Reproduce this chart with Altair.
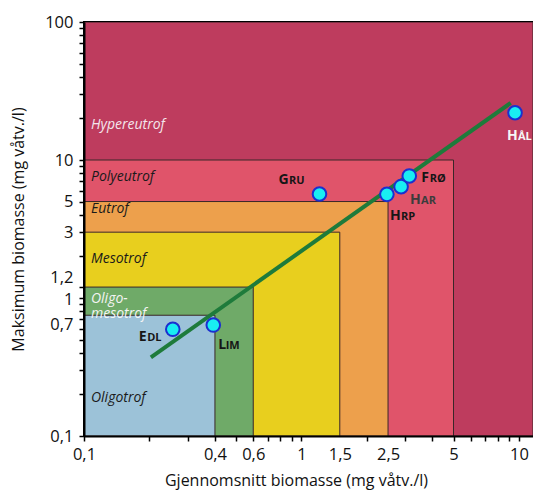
import altair as alt
import pandas as pd

# ---------------- data ----------------
classes = ["Hypereutrof", "Polyeutrof", "Eutrof", "Mesotrof", "Oligo-mesotrof", "Oligotrof"]
class_x_lo = [0.1, 0.1, 0.1, 0.1, 0.1, 0.1]
class_x_hi = [11.6, 5, 2.5, 1.5, 0.6, 0.4]
class_y_lo = [0.1, 0.1, 0.1, 0.1, 0.1, 0.1]
class_y_hi = [100, 10, 5, 3, 1.2, 0.75]
class_label_text = ["Hypereutrof", "Polyeutrof", "Eutrof", "Mesotrof", "Oligo-\nmesotrof", "Oligotrof"]
class_label_y = [17.9, 7.5, 4.4, 1.92, 0.99, 0.19]

lakes = ["Gru", "Hrp", "Har", "Frø", "Hål", "Edl", "Lim"]
lake_mean = [1.21, 2.47, 2.87, 3.13, 9.59, 0.256, 0.393]
lake_max = [5.67, 5.64, 6.41, 7.66, 22.0, 0.593, 0.637]

trend_x = [0.203, 9.16]
trend_y = [0.371, 25.9]

x_ticks = [0.1, 0.2, 0.3, 0.4, 0.5, 0.6, 0.7, 0.8, 0.9, 1, 1.5, 2, 2.5, 3, 4, 5, 6, 7, 8, 9, 10]
x_labels = [0.1, 0.4, 0.6, 1, 1.5, 2.5, 5, 10]
x_notick = [1.5, 2.5]
y_ticks = [0.1, 0.2, 0.3, 0.4, 0.5, 0.6, 0.7, 0.8, 0.9, 1, 1.2, 2, 3, 4, 5, 6, 7, 8, 9,
           10, 20, 30, 40, 50, 60, 70, 80, 90, 100]
y_labels = [0.1, 0.7, 1, 1.2, 3, 5, 10, 100]

# ---------------- styles ----------------
FONT = "Open Sans"
class_colors = ["#BE3C5E", "#E0546A", "#EDA04C", "#E8CF1E", "#6FAA68", "#9CC2D8"]
class_text_colors = ["#F4E6EC", "#1a1a1a", "#1a1a1a", "#1a1a1a", "#F4F4F4", "#1a1a1a"]
# label placement per lake: (dx of big letter, dy of baseline, width of big letter, color)
lake_label_style = {
    "Gru": (-41, -10, 10.6, "#161616"),
    "Hrp": (3, 26, 11.0, "#161616"),
    "Har": (9, 17, 11.0, "#3c3c3c"),
    "Frø": (12, 6, 8.4, "#161616"),
    "Hål": (-8, 27, 11.0, "#F6F6F6"),
    "Edl": (-34, 12, 8.4, "#161616"),
    "Lim": (5, 24, 7.4, "#161616"),
}

def js_list(v):
    return "[" + ",".join(str(a) for a in v) + "]"

rects = pd.DataFrame({
    "cls": classes, "x": class_x_lo, "x2": class_x_hi, "y": class_y_lo, "y2": class_y_hi,
    "fill": class_colors, "label": class_label_text, "ly": class_label_y,
    "tcol": class_text_colors, "order": list(range(len(classes))),
})
pts = pd.DataFrame({"lake": lakes, "x": lake_mean, "y": lake_max})
trend = pd.DataFrame({"x": trend_x, "y": trend_y})

xscale = alt.Scale(type="log", domain=[0.1, 11.6], nice=False)
yscale = alt.Scale(type="log", domain=[0.1, 100], nice=False)

axis_common = dict(
    domainColor="black", domainWidth=2, tickColor="black", tickWidth=1.5, tickSize=5,
    labelFont=FONT, labelFontSize=16.5, labelColor="#111", labelOverlap=False,
    titleFont=FONT, titleFontSize=16, titleFontWeight="normal", titleColor="#111",
    grid=False, zindex=1, labelBound=False, labelFlush=False,
)

x_axis = alt.Axis(
    values=x_ticks,
    labelExpr=f"indexof({js_list(x_labels)}, datum.value) >= 0 ? replace(toString(datum.value), '.', ',') : ''",
    tickOpacity={"condition": {"test": f"indexof({js_list(x_notick)}, datum.value) >= 0", "value": 0}, "value": 1},
    title="Gjennomsnitt biomasse (mg våtv./l)",
    labelPadding=5, titleX=212, titleY=44, titleBaseline="middle", titleAnchor="middle",
    **axis_common,
)
y_axis = alt.Axis(
    values=y_ticks,
    labelExpr=f"indexof({js_list(y_labels)}, datum.value) >= 0 ? replace(toString(datum.value), '.', ',') : ''",
    labelOffset={"condition": [{"test": "datum.value == 1.2", "value": -10},
                               {"test": "datum.value == 1", "value": 1},
                               {"test": "datum.value == 0.7", "value": 5}], "value": 0},
    title="Maksimum biomasse (mg våtv./l)",
    labelPadding=6, titleX=-66, titleY=207, titleBaseline="middle", titleAnchor="middle",
    **axis_common,
)

def X(field="x"):
    return alt.X(f"{field}:Q", scale=xscale, axis=x_axis)

def Y(field="y"):
    return alt.Y(f"{field}:Q", scale=yscale, axis=y_axis)

rect_layer = alt.Chart(rects).mark_rect(stroke="#3a2628", strokeWidth=1, clip=True).encode(
    x=X(), x2="x2:Q", y=Y(), y2="y2:Q",
    fill=alt.Fill("fill:N", scale=None),
    order=alt.Order("order:Q"),
)

label_layer = alt.Chart(rects).mark_text(
    align="left", baseline="middle", dx=7, font=FONT, fontSize=14, fontStyle="italic",
    lineBreak="\n", lineHeight=15,
).encode(
    x=X(), y=Y("ly"),
    text="label:N",
    color=alt.Color("tcol:N", scale=None),
)

line_layer = alt.Chart(trend).mark_line(color="#1E7B3B", strokeWidth=4, strokeCap="butt").encode(
    x=X(), y=Y(),
)

point_layer = alt.Chart(pts).mark_point(
    shape="circle", filled=True, fill="#19EEF2", stroke="#1B30CF", strokeWidth=2,
    size=185, opacity=1, fillOpacity=1,
).encode(x=X(), y=Y())

layers = [rect_layer, label_layer, line_layer, point_layer]
for lake in lakes:
    dx, dy, w, col = lake_label_style[lake]
    sub = pts[pts["lake"] == lake].assign(big=lake[0].upper(), small=lake[1:].upper())
    base = alt.Chart(sub).encode(x=X(), y=Y())
    layers.append(base.mark_text(align="left", baseline="alphabetic", dx=dx, dy=dy,
                                 font=FONT, fontSize=14, fontWeight="bold", color=col
                                 ).encode(text="big:N"))
    layers.append(base.mark_text(align="left", baseline="alphabetic", dx=dx + w, dy=dy,
                                 font=FONT, fontSize=11, fontWeight="bold", color=col
                                 ).encode(text="small:N"))

chart = alt.layer(*layers).properties(
    width=449, height=414,
    autosize=alt.AutoSizeParams(type="none"),
    padding={"left": 76, "top": 14, "right": 0, "bottom": 55},
    background="white",
).configure_view(stroke="black", strokeWidth=2)

chart.save("out.html", embed_options={"renderer": "svg", "actions": False})
